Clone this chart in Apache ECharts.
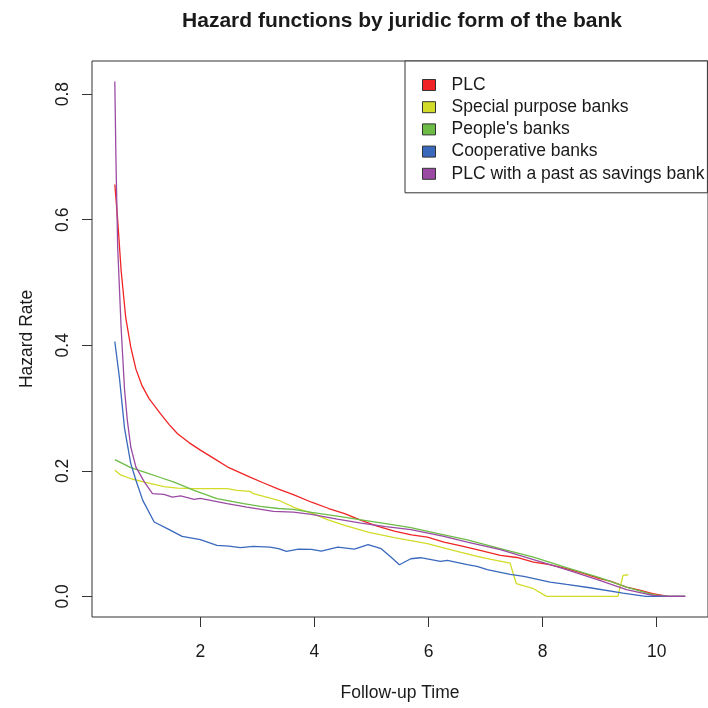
<!DOCTYPE html>
<html>
<head>
<meta charset="utf-8">
<script src="https://cdn.jsdelivr.net/npm/echarts@6/dist/echarts.min.js"></script>
<style>html,body{margin:0;padding:0;background:#fff}#c{width:708px;height:708px}</style>
</head>
<body>
<div id="c"></div>
<script>
const seriesNames = ["PLC", "Special purpose banks", "People's banks", "Cooperative banks", "PLC with a past as savings bank"];
const xTicks = [2, 4, 6, 8, 10];
const yTicks = [0, 0.2, 0.4, 0.6, 0.8];

const plcX = [0.5,0.55,0.61,0.69,0.78,0.87,0.97,1.1,1.3,1.45,1.6,1.8,2.0,2.25,2.5,2.87,3.1,3.37,3.63,3.95,4.25,4.53,4.82,5.1,5.4,5.7,5.98,6.27,6.55,6.85,7.26,7.55,7.84,8.1,8.42,8.7,9.0,9.2,9.47,9.7,9.93,10.2,10.5];
const plcY = [0.656,0.60,0.52,0.445,0.397,0.362,0.337,0.315,0.291,0.274,0.259,0.245,0.233,0.219,0.205,0.19,0.181,0.171,0.162,0.150,0.14,0.132,0.121,0.112,0.104,0.098,0.0945,0.0866,0.081,0.0744,0.0653,0.062,0.0547,0.051,0.0441,0.037,0.0282,0.024,0.0148,0.010,0.0043,0,0];

const spbX = [0.5,0.61,0.8,1.02,1.36,1.6,1.89,2.47,2.64,2.87,2.93,3.16,3.4,3.66,3.95,4.24,4.53,4.94,5.4,5.98,6.4,6.85,7.1,7.43,7.54,7.84,8.07,9.32,9.41,9.5];
const spbY = [0.2008,0.193,0.187,0.182,0.175,0.1726,0.1716,0.1716,0.169,0.1673,0.1636,0.158,0.152,0.141,0.1328,0.122,0.113,0.1025,0.0935,0.084,0.074,0.0637,0.059,0.053,0.0202,0.0122,0,0,0.0335,0.0345];

const peopleX = [0.5,0.78,1.02,1.31,1.54,1.89,2.29,2.76,3.05,3.37,3.63,3.95,4.4,4.82,5.25,5.69,6.27,6.68,7.26,7.84,8.42,9.0,9.47,9.93,10.2,10.5];
const peopleY = [0.2178,0.205,0.198,0.189,0.182,0.169,0.1557,0.1477,0.1434,0.140,0.1385,0.134,0.128,0.122,0.116,0.1095,0.098,0.090,0.076,0.0627,0.0457,0.0298,0.0148,0.0027,0,0];

const coopX = [0.5,0.58,0.67,0.78,0.87,0.99,1.19,1.42,1.68,2.0,2.29,2.5,2.7,2.93,3.22,3.37,3.51,3.72,3.95,4.12,4.41,4.70,4.94,5.17,5.34,5.49,5.69,5.86,6.21,6.33,6.68,6.85,7.03,7.43,7.67,8.13,8.42,8.83,9.41,9.81,10.5];
const coopY = [0.406,0.349,0.268,0.2115,0.185,0.153,0.1185,0.108,0.0956,0.0903,0.0813,0.080,0.0776,0.0797,0.0786,0.076,0.0717,0.0754,0.0749,0.0722,0.0786,0.0754,0.0824,0.076,0.0627,0.0505,0.060,0.0616,0.0558,0.0574,0.0505,0.0478,0.0425,0.035,0.0319,0.0228,0.019,0.0138,0.0053,0,0];

const savX = [0.5,0.52,0.55,0.61,0.67,0.72,0.78,0.87,1.02,1.16,1.36,1.51,1.655,1.89,2.0,2.47,2.815,3.28,3.63,3.95,4.4,4.82,5.25,5.69,6.27,6.68,7.26,7.84,8.42,9.0,9.47,9.93,10.2,10.5];
const savY = [0.82,0.695,0.557,0.429,0.330,0.28,0.238,0.206,0.182,0.1637,0.1626,0.158,0.160,0.1546,0.156,0.1477,0.1423,0.1355,0.1344,0.1307,0.123,0.1168,0.111,0.1063,0.0956,0.0866,0.0744,0.0585,0.0425,0.0255,0.0107,0.0016,0,0];

const colors = ['#f02424', '#d2dc28', '#6cbc46', '#3a68bd', '#9a4aa2'];
const xs = [plcX, spbX, peopleX, coopX, savX];
const ys = [plcY, spbY, peopleY, coopY, savY];

const FONT = "'Liberation Sans', Arial, Helvetica, sans-serif";
const FS = 17.5;
const chart = echarts.init(document.getElementById('c'), null, {renderer: 'canvas'});
chart.setOption({
  animation: false,
  backgroundColor: '#fff',
  title: {
    text: 'Hazard functions by juridic form of the bank',
    left: 402, top: 11, textAlign: 'center', padding: 0,
    textStyle: {fontFamily: FONT, fontSize: 21, fontWeight: 'bold', color: '#1a1a1a'}
  },
  legend: {
    orient: 'vertical',
    left: 405, top: 61,
    padding: [15, 3, 10, 17],
    backgroundColor: '#fff',
    borderColor: '#333', borderWidth: 1,
    borderRadius: 0,
    icon: 'rect',
    itemWidth: 13, itemHeight: 11,
    itemGap: 4.2,
    itemStyle: {borderColor: '#333', borderWidth: 1},
    textStyle: {fontFamily: FONT, fontSize: FS, color: '#1a1a1a', lineHeight: 17.5, padding: [0, 0, 0, 11]},
    data: seriesNames
  },
  grid: {
    left: 92, top: 61, width: 620, height: 556,
    show: true, borderColor: '#333', borderWidth: 1, backgroundColor: 'transparent',
    containLabel: false
  },
  xAxis: {
    type: 'value', min: 0.1, max: 10.9,
    splitLine: {show: false},
    axisLine: {show: false, onZero: false},
    axisTick: {show: true, inside: false, length: 10, lineStyle: {color: '#333'}, customValues: xTicks},
    axisLabel: {customValues: xTicks, fontFamily: FONT, fontSize: FS, color: '#1a1a1a', margin: 26},
    name: 'Follow-up Time', nameLocation: 'middle', nameGap: 67,
    nameTextStyle: {fontFamily: FONT, fontSize: FS, color: '#1a1a1a'}
  },
  yAxis: {
    type: 'value', min: -0.0328, max: 0.8528,
    splitLine: {show: false},
    axisLine: {show: false, onZero: false},
    axisTick: {show: true, inside: false, length: 10, lineStyle: {color: '#333'}, customValues: yTicks},
    axisLabel: {customValues: yTicks, rotate: 90, fontFamily: FONT, fontSize: FS, color: '#1a1a1a', margin: 20,
      formatter: v => v.toFixed(1)},
    name: 'Hazard Rate', nameLocation: 'middle', nameGap: 56, nameRotate: 90,
    nameTextStyle: {fontFamily: FONT, fontSize: FS, color: '#1a1a1a'}
  },
  series: seriesNames.map((n, i) => ({
    name: n, type: 'line', showSymbol: false, symbol: 'none',
    data: xs[i].map((x, j) => [x, ys[i][j]]),
    lineStyle: {color: colors[i], width: 1.3},
    itemStyle: {color: colors[i]},
    emphasis: {disabled: true}
  }))
});
</script>
</body>
</html>
